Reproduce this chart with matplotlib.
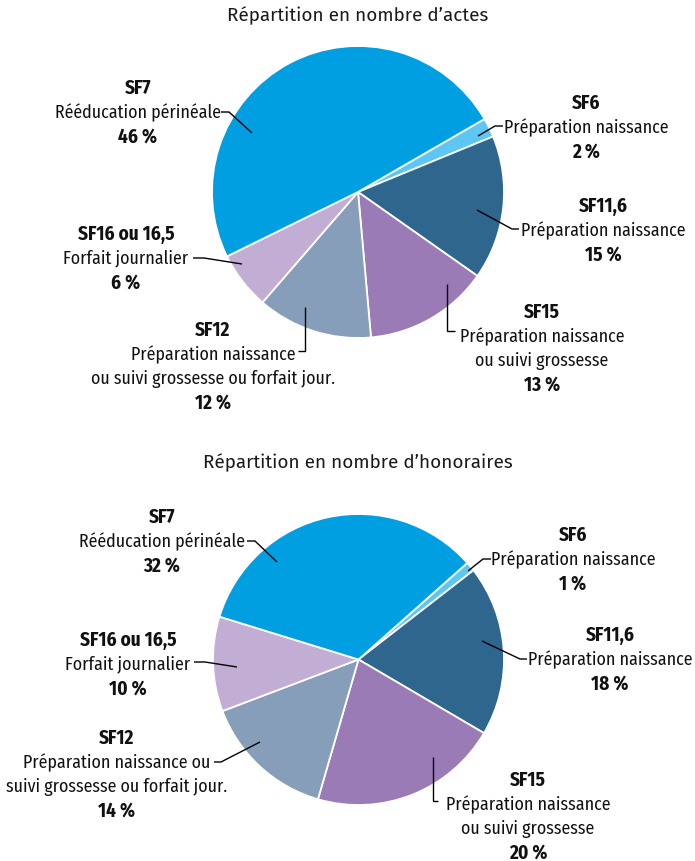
import matplotlib
matplotlib.use("Agg")
import matplotlib.pyplot as plt

plt.rcParams['font.family'] = ['Fira Sans Condensed', 'PT Sans Narrow', 'Barlow Condensed', 'DejaVu Sans']

# ---- data ----
codes = ["SF6", "SF11,6", "SF15", "SF12", "SF16 ou 16,5", "SF7"]
actes = [2, 15, 13, 12, 6, 46]
honoraires = [1, 18, 20, 14, 10, 32]
desc_actes = ["Préparation naissance", "Préparation naissance",
              "Préparation naissance\nou suivi grossesse",
              "Préparation naissance\nou suivi grossesse ou forfait jour.",
              "Forfait journalier", "Rééducation périnéale"]
desc_honoraires = ["Préparation naissance", "Préparation naissance",
                   "Préparation naissance\nou suivi grossesse",
                   "Préparation naissance ou\nsuivi grossesse ou forfait jour.",
                   "Forfait journalier", "Rééducation périnéale"]
titles = ["Répartition en nombre d’actes", "Répartition en nombre d’honoraires"]

colors = ["#5DC6F2", "#2F668D", "#9A7BB6", "#879EBA", "#C2ADD5", "#009FE2"]

W, H = 695, 862
fig = plt.figure(figsize=(W / 100, H / 100), dpi=100)
ax = fig.add_axes([0, 0, 1, 1])


def Y(y):
    return H - y


# ---- layout (pixel coordinates, y measured from top) ----
charts = [
    dict(values=actes, desc=desc_actes, title=titles[0], title_y=16,
         center=(358, 193), radius=146, start=30.0,
         labels=[(586, 103), (603, 206), (542, 312), (213, 330), (126, 234), (138, 88)],
         leaders=[[(503, 127), (495, 127), (478, 137)],
                  [(519, 230), (512, 230), (477, 211)],
                  [(455, 332), (447, 332), (447, 285)],
                  [(298, 352), (305, 352), (305, 308)],
                  [(193, 259), (204, 259), (242, 265)],
                  [(221, 113), (229, 113), (252, 134)]]),
    dict(values=honoraires, desc=desc_honoraires, title=titles[1], title_y=463,
         center=(358.5, 660.5), radius=145.5, start=41.6,
         labels=[(573, 535), (610, 635), (528, 780), (117, 738), (128, 640), (162, 517)],
         leaders=[[(491, 560), (483, 560), (468, 572)],
                  [(527, 660), (520, 660), (482, 642)],
                  [(438, 802), (433, 802), (433, 758)],
                  [(214, 763), (221, 763), (260, 743)],
                  [(194, 663), (205, 663), (237, 668)],
                  [(247, 542), (255, 542), (277, 563)]]),
]

FS = 12.8
FS_BOLD = 13.8
LINE = 24.3

for ch in charts:
    cx, cy = ch["center"]
    ax.pie(ch["values"], colors=colors, startangle=ch["start"], counterclock=False,
           center=(cx, Y(cy)), radius=ch["radius"],
           wedgeprops=dict(edgecolor="white", linewidth=1.3), frame=True)
    ax.text(358, Y(ch["title_y"]), ch["title"], ha="center", va="center",
            fontsize=13.6, color="#1a1a1a", family=["Fira Sans", "DejaVu Sans"])
    for i, (code, val) in enumerate(zip(codes, ch["values"])):
        lx, ly = ch["labels"][i]
        lines = [(code, "bold")] + [(d, "normal") for d in ch["desc"][i].split("\n")] \
            + [(f"{val} %", "bold")]
        for k, (txt, wt) in enumerate(lines):
            ax.text(lx, Y(ly + k * LINE), txt, ha="center", va="center",
                    fontsize=FS_BOLD if wt == "bold" else FS, fontweight=wt,
                    color="#111111")
        pts = ch["leaders"][i]
        ax.plot([p[0] for p in pts], [Y(p[1]) for p in pts], color="black",
                lw=1.0, solid_capstyle="butt", solid_joinstyle="miter")

ax.set_xlim(0, W)
ax.set_ylim(0, H)
ax.set_aspect("auto")
ax.axis("off")

fig.savefig("out.png", dpi=100, facecolor="white")
